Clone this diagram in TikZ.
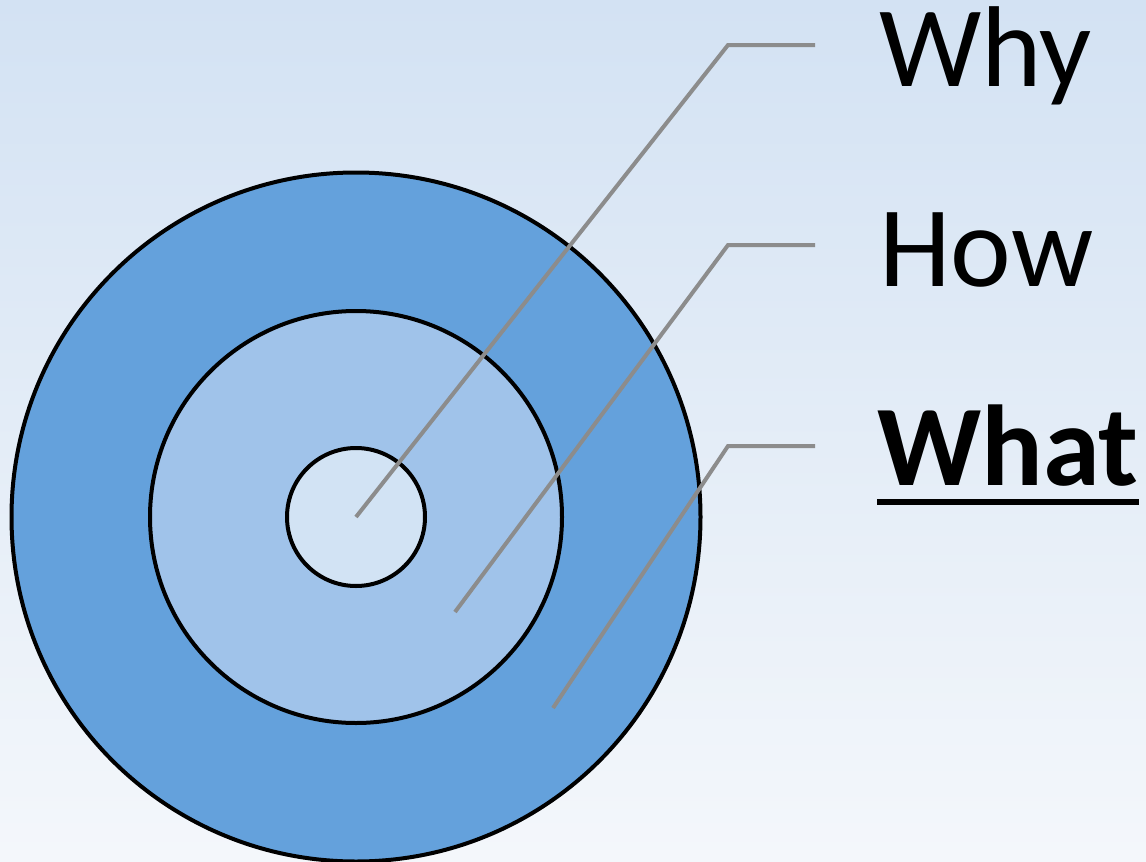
\documentclass[tikz,border=0pt]{standalone}
\usepackage{fontspec}
\setmainfont{Carlito}
\definecolor{bgtop}{HTML}{D3E2F3}
\definecolor{bgbot}{HTML}{F4F7FB}
\definecolor{ringout}{HTML}{64A1DC}
\definecolor{ringmid}{HTML}{A0C3EA}
\definecolor{ringin}{HTML}{D2E3F4}
\definecolor{lead}{HTML}{8C8C8C}
\usetikzlibrary{calc}

\begin{document}
\begin{tikzpicture}[x=1pt,y=-1pt,
    ring/.style={circle,draw=black,line width=4pt,inner sep=0pt},
    lbl/.style={anchor=base west,inner sep=0pt,font=\fontsize{115}{115}\selectfont},
    ld/.style={draw=lead,line width=4pt}]
    \shade[top color=bgtop,bottom color=bgbot] (0,0) rectangle (1146,862);
    \useasboundingbox (0,0) rectangle (1146,862);
    % target rings
    \node[ring,fill=ringout,minimum size=689pt] (outer) at (356,517) {};
    \node[ring,fill=ringmid,minimum size=412pt] (middle) at (356,517) {};
    \node[ring,fill=ringin,minimum size=138pt] (inner) at (356,517) {};
    % labels
    \node[lbl] (why) at (879,86) {Why};
    \node[lbl] (how) at (879,286) {How};
    \node[lbl,font=\fontsize{115}{115}\selectfont\bfseries] (what) at (877,485) {What};
    \draw[line width=5.5pt] ([yshift=-17pt]what.base west) -- ([yshift=-17pt]what.base east);
    % leader lines
    \coordinate (p1) at (inner.center);
    \coordinate (p2) at (455,612);
    \coordinate (p3) at (553,708);
    \coordinate (e1) at (815,45);
    \coordinate (e2) at (815,245);
    \coordinate (e3) at (815,446);
    \foreach \s/\e in {p1/e1,p2/e2,p3/e3}
      \draw[ld] (\s) -- (\e -| 728,0) -- (\e);
  \end{tikzpicture}
\end{document}
